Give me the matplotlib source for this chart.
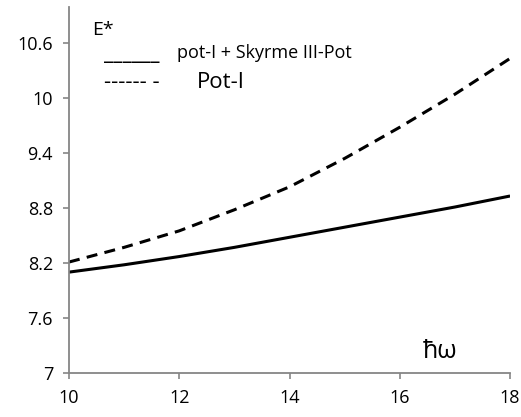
import numpy as np
import matplotlib
matplotlib.use("Agg")
import matplotlib.pyplot as plt

plt.rcParams['font.family'] = ['Open Sans', 'DejaVu Sans']

hw = [10, 11, 12, 13, 14, 15, 16, 17, 18]
e_skyrme = [8.10, 8.18, 8.27, 8.37, 8.48, 8.59, 8.70, 8.81, 8.93]
e_pot1 = [8.21, 8.37, 8.55, 8.78, 9.03, 9.34, 9.68, 10.04, 10.43]

x_ticks = [10, 12, 14, 16, 18]
y_ticks = [7, 7.6, 8.2, 8.8, 9.4, 10, 10.6]

fig = plt.figure(figsize=(5.21, 4.17), dpi=100)
ax = fig.add_axes([0.1324, 0.1055, 0.8466, 0.8775])

ax.plot(hw, e_skyrme, color="black", lw=2.2, solid_capstyle="butt")
ax.plot(hw, e_pot1, color="black", lw=2.2, linestyle=(0, (3.6, 2.4)))

ax.set_xlim(10, 18)
ax.set_ylim(7, 10.99)
ax.set_xticks(x_ticks)
ax.set_yticks(y_ticks)
ax.set_yticklabels(["7", "7.6", "8.2", "8.8", "9.4", "10", "10.6"])

for s in ["top", "right"]:
    ax.spines[s].set_visible(False)
for s in ["left", "bottom"]:
    ax.spines[s].set_color("#868686")
    ax.spines[s].set_linewidth(1.3)

ax.tick_params(axis="both", direction="out", length=4.5, width=1.2,
               color="#868686", labelsize=13, labelcolor="black")
ax.tick_params(axis="x", pad=7)
ax.tick_params(axis="y", pad=7)

# text labels drawn on the plot, like the original
fig.text(92 / 521, 1 - 35 / 417, "E*", fontsize=14, va="baseline")
fig.text(104 / 521, 1 - 60 / 417, "______", fontsize=15, va="baseline")
fig.text(177 / 521, 1 - 53 / 417, "pot-I + Skyrme III-Pot", fontsize=13, va="center")
fig.text(104 / 521, 1 - 82 / 417, "------ -", fontsize=16, va="center")
fig.text(197 / 521, 1 - 82 / 417, "Pot-I", fontsize=16, va="center")
fig.text(440 / 521, 1 - 352 / 417, "ħω", fontsize=18, ha="center", va="center")

fig.savefig("out.png", dpi=100)
